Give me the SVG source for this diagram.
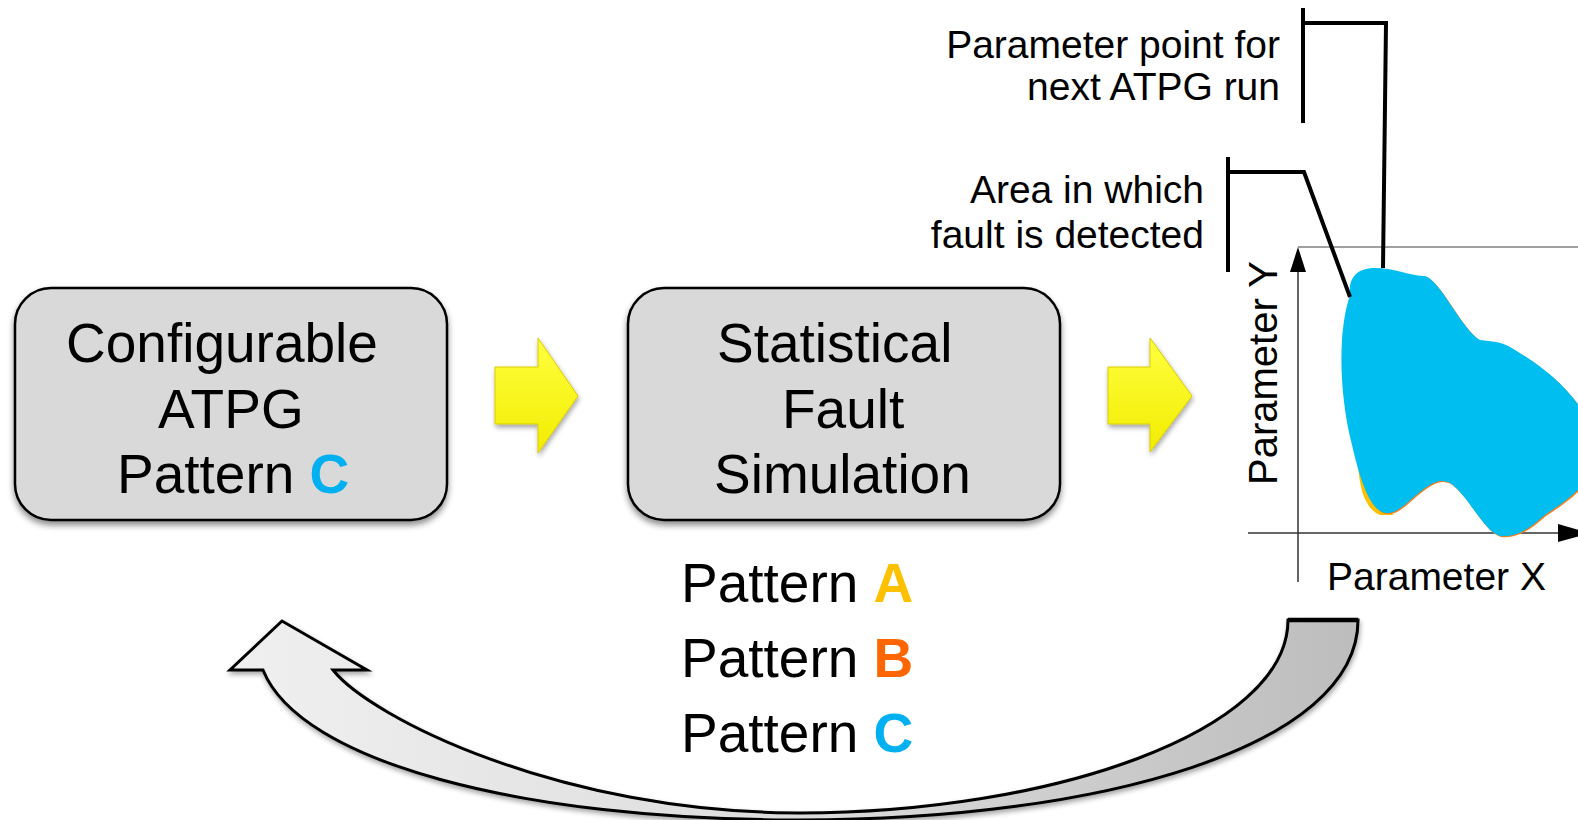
<svg xmlns="http://www.w3.org/2000/svg" width="1578" height="820" viewBox="0 0 1578 820">
  <style>
    .t { font-family: "Liberation Sans", Arial, Helvetica, sans-serif; fill: #000; }
    .big { font-size: 55px; }
    .small { font-size: 39px; }
    .box { fill: #d9d9d9; stroke: #000; stroke-width: 2.5; filter: url(#shadow); }
    .yarrow { stroke: #d8cc00; stroke-width: 1; filter: url(#softshadow); }
    .callout { fill: none; stroke: #000; stroke-width: 4; stroke-linejoin: miter; }
    .bA { fill: #ffc000; font-weight: bold; }
    .bB { fill: #ff6600; font-weight: bold; }
    .bC { fill: #00b0f0; font-weight: bold; }
  </style>
  <defs>
    <filter id="shadow" x="-10%" y="-10%" width="120%" height="130%">
      <feDropShadow dx="0" dy="4" stdDeviation="3" flood-color="#000" flood-opacity="0.45"/>
    </filter>
    <filter id="softshadow" x="-20%" y="-20%" width="150%" height="150%">
      <feDropShadow dx="1" dy="3" stdDeviation="2.5" flood-color="#000" flood-opacity="0.35"/>
    </filter>
    <linearGradient id="loopFill" x1="0" y1="0" x2="1" y2="0">
      <stop offset="0" stop-color="#f0f0f0"/>
      <stop offset="0.5" stop-color="#dcdcdc"/>
      <stop offset="1" stop-color="#bdbdbd"/>
    </linearGradient>
    <linearGradient id="yShade" x1="0" y1="0" x2="0" y2="1">
      <stop offset="0" stop-color="#ffff40"/>
      <stop offset="1" stop-color="#f2ec00"/>
    </linearGradient>
  </defs>

  <!-- Node: configurable ATPG -->
  <g id="atpg">
    <rect class="box" x="15" y="288" width="432" height="232" rx="36" ry="36"/>
    <text class="t big" x="66" y="362">Configurable</text>
    <text class="t big" x="158" y="428">ATPG</text>
    <text class="t big" x="117" y="493">Pattern <tspan class="bC">C</tspan></text>
  </g>

  <!-- Node: statistical fault simulation -->
  <g id="fault-sim">
    <rect class="box" x="628" y="288" width="432" height="232" rx="36" ry="36"/>
    <text class="t big" x="717" y="362">Statistical</text>
    <text class="t big" x="782" y="428">Fault</text>
    <text class="t big" x="714" y="493">Simulation</text>
  </g>

  <!-- Pattern list under the simulation -->
  <g id="patterns">
    <text class="t big" x="681" y="602">Pattern <tspan class="bA">A</tspan></text>
    <text class="t big" x="681" y="677">Pattern <tspan class="bB">B</tspan></text>
    <text class="t big" x="681" y="752">Pattern <tspan class="bC">C</tspan></text>
  </g>

  <!-- Node: parameter space plot -->
  <g id="param-plot">
    <line x1="1298" y1="247" x2="1578" y2="247" stroke="#808080" stroke-width="1.5"/>
    <line x1="1298" y1="268" x2="1298" y2="582" stroke="#333" stroke-width="1.5"/>
    <polygon points="1298,247 1290,272 1306,272" fill="#000"/>
    <line x1="1248" y1="533" x2="1562" y2="533" stroke="#333" stroke-width="1.5"/>
    <polygon points="1558,524 1590,533 1558,542" fill="#000"/>
    <!-- detection areas of patterns A, B, C -->
    <path d="M1358,462 C1359,492 1367,510 1380,515 L1394,515 C1380,505 1368,490 1358,462 Z" fill="#ffc000"/>
    <path transform="translate(1,1)" fill="#ff7a1a" d="M1350,295 C1348,275 1360,268 1375,268 C1395,268 1410,276 1425,276 C1440,280 1462,330 1480,340 C1492,342 1500,340 1515,350 C1545,368 1575,392 1590,425 L1590,475 C1580,492 1560,505 1545,515 C1528,530 1515,538 1500,536 C1485,532 1470,500 1455,487 C1448,480 1440,479 1430,485 C1410,497 1400,515 1385,513 C1370,510 1360,480 1352,445 C1343,410 1340,370 1342,340 C1344,315 1347,305 1350,295 Z"/>
    <path fill="#00bef0" d="M1350,295 C1348,275 1360,268 1375,268 C1395,268 1410,276 1425,276 C1440,280 1462,330 1480,340 C1492,342 1500,340 1515,350 C1545,368 1575,392 1590,425 L1590,475 C1580,492 1560,505 1545,515 C1528,530 1515,538 1500,536 C1485,532 1470,500 1455,487 C1448,480 1440,479 1430,485 C1410,497 1400,515 1385,513 C1370,510 1360,480 1352,445 C1343,410 1340,370 1342,340 C1344,315 1347,305 1350,295 Z"/>
    <text class="t" font-size="40" transform="translate(1277,485) rotate(-90)">Parameter Y</text>
    <text class="t small" x="1327" y="590">Parameter X</text>
  </g>

  <!-- Callout labels -->
  <g id="callout-next-point">
    <text class="t small" x="1280" y="58" text-anchor="end">Parameter point for</text>
    <text class="t small" x="1280" y="100" text-anchor="end">next ATPG run</text>
    <path class="callout" d="M1303,8 V123 M1303,23 H1386 L1383,268"/>
  </g>
  <g id="callout-area">
    <text class="t small" x="1204" y="203" text-anchor="end">Area in which</text>
    <text class="t small" x="1204" y="248" text-anchor="end">fault is detected</text>
    <path class="callout" d="M1228,157 V272 M1228,172 H1304 L1350,297"/>
  </g>

  <!-- Connectors -->
  <g id="connectors">
    <polygon class="yarrow" fill="url(#yShade)" points="495,367 538,367 538,338 578,396 538,453 538,424 495,424"/>
    <polygon class="yarrow" fill="url(#yShade)" points="1108,367 1150,367 1150,338 1192,396 1150,452 1150,424 1108,424"/>
    <path fill="url(#loopFill)" stroke="#000" stroke-width="3" stroke-linejoin="miter" filter="url(#softshadow)"
          d="M1288,620 C1288,732 1050,813 800,813 C560,813 370,717 333,670 L367,670 L282,621 L230,670 L263,670 C300,762 520,820 800,820 C1100,820 1358,747 1358,620 Z"/>
    <line x1="1288" y1="620" x2="1358" y2="620" stroke="#000" stroke-width="4.5"/>
  </g>
</svg>
